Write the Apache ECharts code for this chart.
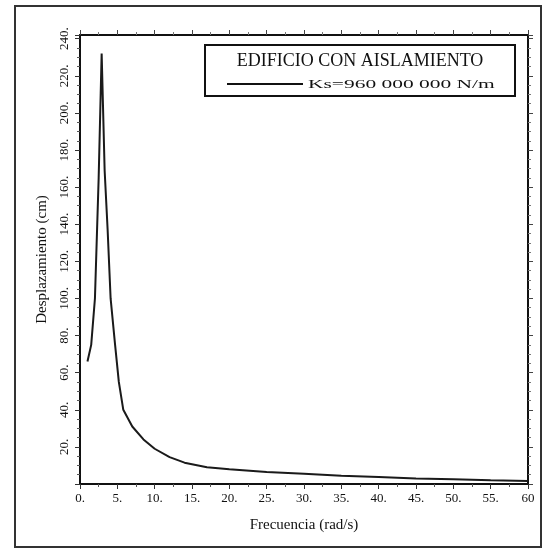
<!DOCTYPE html>
<html>
<head>
<meta charset="utf-8">
<script src="https://cdn.jsdelivr.net/npm/echarts@6/dist/echarts.min.js"></script>
<style>html,body{margin:0;padding:0;background:#fff}#c{width:548px;height:549px}</style>
</head>
<body>
<div id="c"></div>
<script>
const frequency = [1.0, 1.5, 2.0, 2.5, 2.9, 3.3, 3.7, 4.1, 4.7, 5.2, 5.8, 7, 8.5, 10, 12, 14, 17, 20, 25, 30, 35, 40, 45, 50, 55, 60];
const displacement = [66, 75, 100, 165, 232, 169, 137, 100, 75, 55, 40, 31, 24, 19, 14.5, 11.5, 9, 8, 6.5, 5.5, 4.5, 3.8, 3, 2.5, 2, 1.6];
const seriesName = 'Ks=960 000 000 N/m';
const chartTitle = 'EDIFICIO CON AISLAMIENTO';
const xName = 'Frecuencia (rad/s)';
const yName = 'Desplazamiento (cm)';

const font = 'Liberation Serif';
const chart = echarts.init(document.getElementById('c'));
chart.setOption({
  animation: false,
  backgroundColor: '#fff',
  grid: {left: 80, right: 20, top: 35, bottom: 65},
  xAxis: [{
    type: 'value', min: 0, max: 60, interval: 5, position: 'bottom',
    name: xName, nameLocation: 'middle', nameGap: 34,
    nameTextStyle: {fontFamily: font, fontSize: 15, color: '#111'},
    axisLine: {show: true, onZero: false, lineStyle: {color: '#111', width: 2}},
    axisTick: {show: true, length: 5, lineStyle: {color: '#333'}},
    minorTick: {show: true, splitNumber: 2, length: 3, lineStyle: {color: '#555'}},
    splitLine: {show: false},
    axisLabel: {fontFamily: font, fontSize: 13, color: '#111', margin: 8,
      formatter: v => v === 60 ? '60' : v + '.'}
  }, {
    type: 'value', min: 0, max: 60, interval: 5, position: 'top',
    axisLine: {show: true, onZero: false, lineStyle: {color: '#111', width: 2}},
    axisTick: {show: true, length: 5, lineStyle: {color: '#444'}},
    minorTick: {show: true, splitNumber: 2, length: 3, lineStyle: {color: '#777'}},
    splitLine: {show: false}, axisLabel: {show: false}
  }],
  yAxis: [{
    type: 'value', min: 0, max: 242, interval: 20, position: 'left',
    name: yName, nameLocation: 'middle', nameGap: 30, nameRotate: 90,
    nameTextStyle: {fontFamily: font, fontSize: 15, color: '#111'},
    axisLine: {show: true, onZero: false, lineStyle: {color: '#111', width: 2}},
    axisTick: {show: true, length: 5, lineStyle: {color: '#333'}},
    minorTick: {show: true, splitNumber: 4, length: 3, lineStyle: {color: '#555'}},
    splitLine: {show: false},
    axisLabel: {fontFamily: font, fontSize: 13, color: '#111', rotate: 90, margin: 9,
      showMinLabel: false, showMaxLabel: false, formatter: v => v + '.'}
  }, {
    type: 'value', min: 0, max: 242, interval: 20, position: 'right',
    axisLine: {show: true, onZero: false, lineStyle: {color: '#111', width: 2}},
    axisTick: {show: true, length: 5, lineStyle: {color: '#444'}},
    minorTick: {show: true, splitNumber: 4, length: 3, lineStyle: {color: '#777'}},
    splitLine: {show: false}, axisLabel: {show: false}
  }],
  series: [{
    name: seriesName, type: 'line', xAxisIndex: 0, yAxisIndex: 0,
    data: frequency.map((f, i) => [f, displacement[i]]),
    showSymbol: false, smooth: false,
    lineStyle: {color: '#1a1a1a', width: 2}
  }],
  graphic: [
    {type: 'rect', shape: {x: 15, y: 6, width: 526, height: 541},
      style: {fill: null, stroke: '#333', lineWidth: 2}, silent: true},
    {type: 'rect', shape: {x: 205, y: 45, width: 310, height: 51},
      style: {fill: '#fff', stroke: '#111', lineWidth: 2}, z: 10},
    {type: 'text', x: 360, y: 61, z: 11,
      style: {text: chartTitle, font: '18px "Liberation Serif"', fill: '#111', align: 'center', verticalAlign: 'middle'}},
    {type: 'line', shape: {x1: 227, y1: 84, x2: 303, y2: 84}, z: 11,
      style: {stroke: '#111', lineWidth: 2}},
    {type: 'text', x: 308, y: 85, z: 11, scaleX: 1.65,
      style: {text: seriesName, font: '13px "Liberation Serif"', fill: '#111', align: 'left', verticalAlign: 'middle'}}
  ]
});
</script>
</body>
</html>
